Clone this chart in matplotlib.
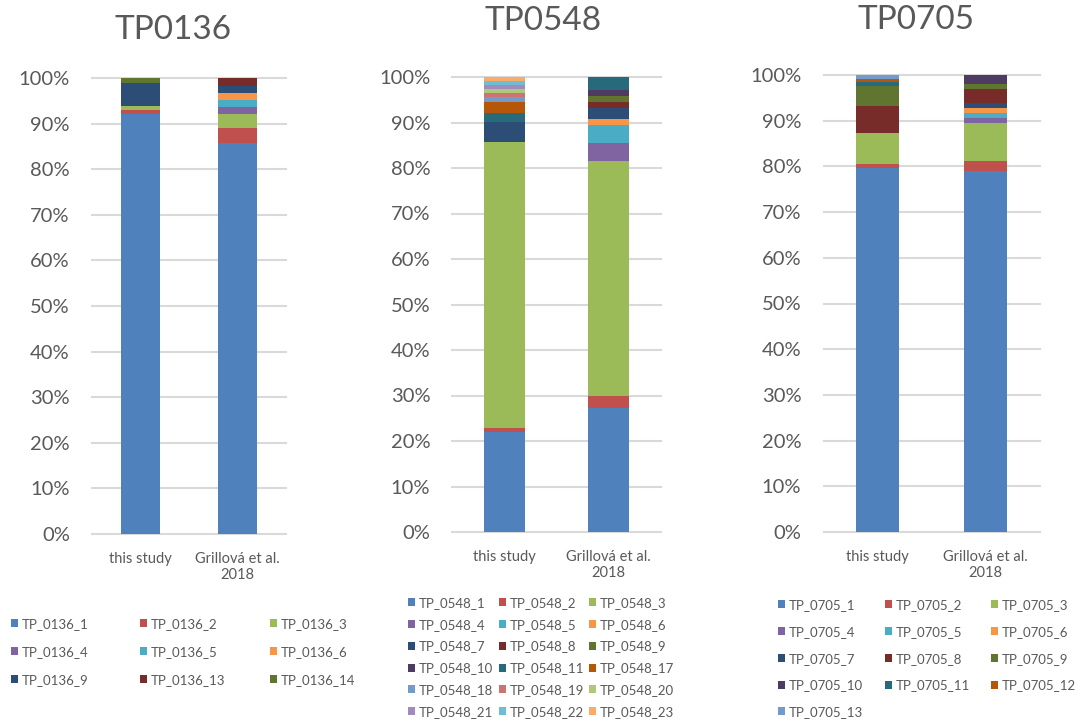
import matplotlib
matplotlib.use("Agg")
import matplotlib.pyplot as plt
from matplotlib.patches import Patch
import numpy as np

plt.rcParams['font.family'] = ['Lato', 'DejaVu Sans']

# ---------------- data ----------------
categories = ["this study", "Grillová et al.\n2018"]

p1_title = "TP0136"
p1_labels = ["TP_0136_1", "TP_0136_2", "TP_0136_3", "TP_0136_4", "TP_0136_5",
             "TP_0136_6", "TP_0136_9", "TP_0136_13", "TP_0136_14"]
p1_study = [92.1, 0.9, 0.9, 0.0, 0.0, 0.0, 5.1, 0.0, 1.0]
p1_grill = [85.8, 3.2, 3.1, 1.6, 1.5, 1.5, 1.5, 1.8, 0.0]

p2_title = "TP0548"
p2_labels = ["TP_0548_1", "TP_0548_2", "TP_0548_3", "TP_0548_4", "TP_0548_5",
             "TP_0548_6", "TP_0548_7", "TP_0548_8", "TP_0548_9", "TP_0548_10",
             "TP_0548_11", "TP_0548_17", "TP_0548_18", "TP_0548_19", "TP_0548_20",
             "TP_0548_21", "TP_0548_22", "TP_0548_23"]
p2_study = [22.0, 0.8, 63.0, 0.0, 0.0, 0.0, 4.4, 0.0, 0.0, 0.0,
            1.8, 2.6, 0.9, 0.9, 0.9, 0.9, 0.9, 0.9]
p2_grill = [27.3, 2.5, 51.7, 4.0, 3.9, 1.3, 2.5, 1.3, 1.3, 1.3,
            2.9, 0.0, 0.0, 0.0, 0.0, 0.0, 0.0, 0.0]

p3_title = "TP0705"
p3_labels = ["TP_0705_1", "TP_0705_2", "TP_0705_3", "TP_0705_4", "TP_0705_5",
             "TP_0705_6", "TP_0705_7", "TP_0705_8", "TP_0705_9", "TP_0705_10",
             "TP_0705_11", "TP_0705_12", "TP_0705_13"]
p3_study = [79.5, 0.9, 6.8, 0.0, 0.0, 0.0, 0.0, 6.0, 4.2, 0.0, 0.9, 0.8, 0.8]
p3_grill = [78.9, 2.2, 8.3, 1.1, 1.0, 1.1, 1.0, 3.1, 1.1, 2.0, 0.0, 0.0, 0.0]

palette = ['#4F81BD', '#C0504D', '#9BBB59', '#8064A2', '#4BACC6', '#F79646',
           '#2C4D75', '#772C2A', '#5F7530', '#4D3B62', '#276A7C', '#B65708',
           '#729ACA', '#CD7371', '#AFC97A', '#A08BBC', '#6FBDD1', '#F9AB6B']

TXT = '#595959'
GRID = '#D9D9D9'

fig = plt.figure(figsize=(10.8, 7.23), dpi=100)
W, H = 1080.0, 723.0


def fx(x):
    return x / W


def fy(y):
    return 1 - y / H


panels = [
    dict(title=p1_title, labels=p1_labels, study=p1_study, grill=p1_grill,
         left=92, right=286, top=78, bottom=534, title_xy=(173, 30),
         leg_cols=[11, 140, 270], leg_top=618, leg_space=1.2),
    dict(title=p2_title, labels=p2_labels, study=p2_study, grill=p2_grill,
         left=452.5, right=660.5, top=77, bottom=532, title_xy=(543, 21),
         leg_cols=[408, 499, 589], leg_top=597, leg_space=0.74),
    dict(title=p3_title, labels=p3_labels, study=p3_study, grill=p3_grill,
         left=823.5, right=1039.5, top=75, bottom=532, title_xy=(916, 20),
         leg_cols=[778, 885, 991], leg_top=599, leg_space=1.12),
]

for p in panels:
    ax = fig.add_axes([fx(p['left']), fy(p['bottom']),
                       (p['right'] - p['left']) / W,
                       (p['bottom'] - p['top']) / H])
    data = np.array([p['study'], p['grill']], dtype=float)
    data = data / data.sum(axis=1, keepdims=True) * 100.0
    x = np.arange(len(categories))
    base = np.zeros(len(categories))
    handles = []
    for i, lab in enumerate(p['labels']):
        col = palette[i]
        ax.bar(x, data[:, i], bottom=base, width=0.4, color=col,
               edgecolor='none', zorder=3)
        base += data[:, i]
        handles.append(Patch(facecolor=col, edgecolor='none', label=lab))
    ax.set_xlim(-0.5, 1.5)
    ax.set_ylim(0, 100)
    ax.set_yticks(np.arange(0, 101, 10))
    ax.set_yticklabels([f"{v}%" for v in range(0, 101, 10)])
    ax.set_xticks(x)
    ax.set_xticklabels(categories, linespacing=1.15)
    ax.tick_params(axis='y', length=0, pad=16, labelsize=14.5, labelcolor=TXT)
    ax.tick_params(axis='x', length=0, pad=13, labelsize=10.5, labelcolor=TXT)
    for s in ax.spines.values():
        s.set_visible(False)
    ax.yaxis.grid(True, color=GRID, linewidth=1.5, zorder=0)
    ax.set_axisbelow(True)
    for gl in ax.get_ygridlines():
        gl.set_clip_on(False)

    fig.text(fx(p['title_xy'][0]), fy(p['title_xy'][1]), p['title'],
             ha='center', va='center', fontsize=24, color=TXT)

    # legend, row-major in three columns
    for c in range(3):
        hs = handles[c::3]
        fig.legend(handles=hs, loc='upper left',
                   bbox_to_anchor=(fx(p['leg_cols'][c]), fy(p['leg_top'])),
                   frameon=False, fontsize=9.5, labelcolor=TXT,
                   handlelength=0.55, handleheight=0.55, handletextpad=0.25,
                   borderpad=0, borderaxespad=0, labelspacing=p['leg_space'])

fig.savefig("out.png", dpi=100, facecolor='white')
